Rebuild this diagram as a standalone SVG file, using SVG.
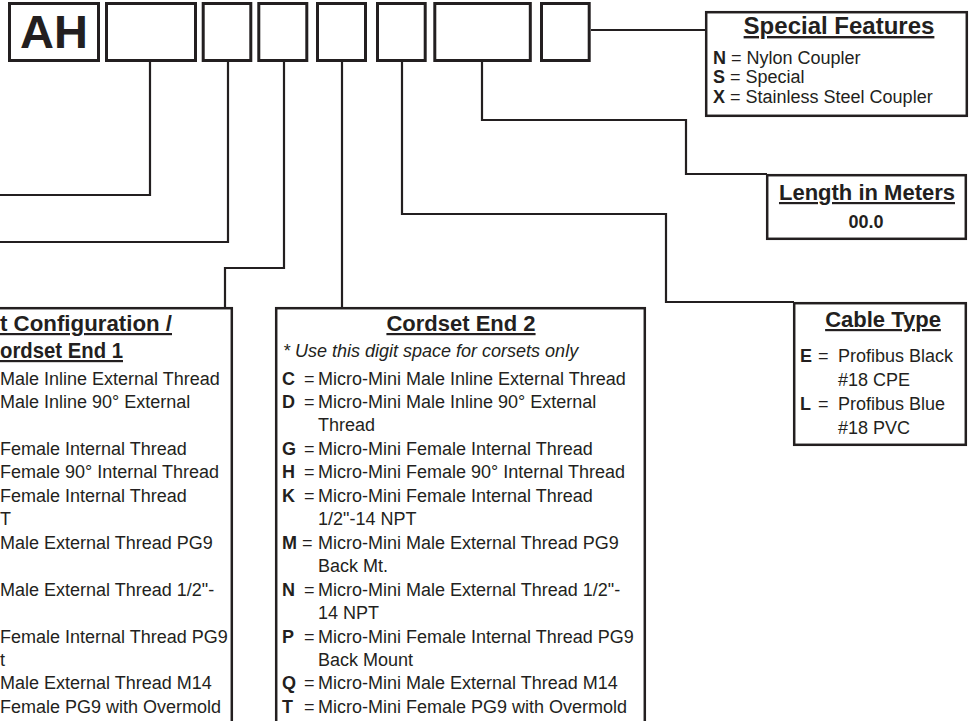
<svg xmlns="http://www.w3.org/2000/svg" width="972" height="721" viewBox="0 0 972 721">
<style>
.bg{fill:#ffffff}
.slot{fill:#ffffff;stroke:#231f20;stroke-width:3}
.info{fill:#ffffff;stroke:#231f20;stroke-width:2.5}
.conn{fill:none;stroke:#231f20;stroke-width:2.2}
text{font-family:"Liberation Sans",Arial,Helvetica,sans-serif;fill:#231f20}
.ah{font-size:47px;font-weight:bold}
.ttl{font-size:22px;font-weight:bold;text-decoration:underline}
.big{font-size:24px}
.t{font-size:18px}
.b{font-weight:bold}
.it{font-size:18px;font-style:italic}
</style>
<rect class="bg" x="0" y="0" width="972" height="721"/>

<g id="connectors">
<polyline class="conn" points="150,62 150,195 -5,195"/>
<polyline class="conn" points="228,62 228,242 -5,242"/>
<polyline class="conn" points="284,62 284,268 225,268 225,308"/>
<polyline class="conn" points="342,62 342,308"/>
<polyline class="conn" points="402,62 402,214 666,214 666,302 794,302"/>
<polyline class="conn" points="482,62 482,120 686,120 686,174 767,174"/>
<polyline class="conn" points="591,30 706,30"/>
</g>

<g id="slot-ah">
<rect class="slot" x="9.5" y="3.5" width="89" height="57"/>
<text class="ah" x="54" y="48" text-anchor="middle">AH</text>
</g>
<g id="slot-2"><rect class="slot" x="106.5" y="3.5" width="89" height="57"/></g>
<g id="slot-3"><rect class="slot" x="203.2" y="3.5" width="47.6" height="57"/></g>
<g id="slot-4"><rect class="slot" x="258.8" y="3.5" width="48" height="57"/></g>
<g id="slot-5"><rect class="slot" x="317.5" y="3.5" width="48" height="57"/></g>
<g id="slot-6"><rect class="slot" x="377.5" y="3.5" width="47.7" height="57"/></g>
<g id="slot-7"><rect class="slot" x="434.8" y="3.5" width="95.5" height="57"/></g>
<g id="slot-8"><rect class="slot" x="541.5" y="3.5" width="47.7" height="57"/></g>

<g id="special-features">
<rect class="info" x="706.2" y="12.2" width="260.6" height="103.6"/>
<text class="ttl big" x="839" y="34" text-anchor="middle">Special Features</text>
<text class="t" x="713" y="64"><tspan class="b">N</tspan> = Nylon Coupler</text>
<text class="t" x="713" y="83"><tspan class="b">S</tspan> = Special</text>
<text class="t" x="713" y="102.5"><tspan class="b">X</tspan> = Stainless Steel Coupler</text>
</g>

<g id="length">
<rect class="info" x="767.2" y="175.2" width="198.6" height="63.6"/>
<text class="ttl" x="867" y="200" text-anchor="middle">Length in Meters</text>
<text class="t b" x="866" y="228" text-anchor="middle">00.0</text>
</g>

<g id="cable-type">
<rect class="info" x="794.2" y="303.2" width="171.6" height="141.6"/>
<text class="ttl" x="883" y="327" text-anchor="middle">Cable Type</text>
<text class="t b" x="800" y="362">E</text><text class="t" x="818" y="362">=</text><text class="t" x="838" y="362">Profibus Black</text>
<text class="t" x="838" y="386">#18 CPE</text>
<text class="t b" x="800" y="410">L</text><text class="t" x="818" y="410">=</text><text class="t" x="838" y="410">Profibus Blue</text>
<text class="t" x="838" y="434">#18 PVC</text>
</g>

<g id="cordset-end-1">
<rect class="info" x="-10" y="308.2" width="241.8" height="430"/>
<text class="ttl" x="0" y="331" textLength="172" lengthAdjust="spacingAndGlyphs">t Configuration /</text>
<text class="ttl" x="0" y="358" textLength="123" lengthAdjust="spacingAndGlyphs">ordset End 1</text>
<text class="t" x="0" y="384.5">Male Inline External Thread</text>
<text class="t" x="0" y="408">Male Inline 90° External</text>
<text class="t" x="0" y="454.9">Female Internal Thread</text>
<text class="t" x="0" y="478.3">Female 90° Internal Thread</text>
<text class="t" x="0" y="501.8">Female Internal Thread</text>
<text class="t" x="0" y="525.2">T</text>
<text class="t" x="0" y="548.7">Male External Thread PG9</text>
<text class="t" x="0" y="595.6">Male External Thread 1/2"-</text>
<text class="t" x="0" y="642.5">Female Internal Thread PG9</text>
<text class="t" x="0" y="665.9">t</text>
<text class="t" x="0" y="689.4">Male External Thread M14</text>
<text class="t" x="0" y="712.8">Female PG9 with Overmold</text>
</g>

<g id="cordset-end-2">
<rect class="info" x="276.2" y="308.2" width="368.6" height="430"/>
<text class="ttl" x="461" y="331" text-anchor="middle">Cordset End 2</text>
<text class="it" x="283" y="357">* Use this digit space for corsets only</text>
<text class="t b" x="282" y="384.5">C</text><text class="t" x="304" y="384.5">=</text><text class="t" x="318" y="384.5">Micro-Mini Male Inline External Thread</text>
<text class="t b" x="282" y="408">D</text><text class="t" x="304" y="408">=</text><text class="t" x="318" y="408">Micro-Mini Male Inline 90° External</text>
<text class="t" x="318" y="431.4">Thread</text>
<text class="t b" x="282" y="454.9">G</text><text class="t" x="304" y="454.9">=</text><text class="t" x="318" y="454.9">Micro-Mini Female Internal Thread</text>
<text class="t b" x="282" y="478.3">H</text><text class="t" x="304" y="478.3">=</text><text class="t" x="318" y="478.3">Micro-Mini Female 90° Internal Thread</text>
<text class="t b" x="282" y="501.8">K</text><text class="t" x="304" y="501.8">=</text><text class="t" x="318" y="501.8">Micro-Mini Female Internal Thread</text>
<text class="t" x="318" y="525.2">1/2"-14 NPT</text>
<text class="t b" x="282" y="548.7">M</text><text class="t" x="302" y="548.7">=</text><text class="t" x="318" y="548.7">Micro-Mini Male External Thread PG9</text>
<text class="t" x="318" y="572.1">Back Mt.</text>
<text class="t b" x="282" y="595.6">N</text><text class="t" x="304" y="595.6">=</text><text class="t" x="318" y="595.6">Micro-Mini Male External Thread 1/2"-</text>
<text class="t" x="318" y="619">14 NPT</text>
<text class="t b" x="282" y="642.5">P</text><text class="t" x="304" y="642.5">=</text><text class="t" x="318" y="642.5">Micro-Mini Female Internal Thread PG9</text>
<text class="t" x="318" y="665.9">Back Mount</text>
<text class="t b" x="282" y="689.4">Q</text><text class="t" x="304" y="689.4">=</text><text class="t" x="318" y="689.4">Micro-Mini Male External Thread M14</text>
<text class="t b" x="282" y="712.8">T</text><text class="t" x="304" y="712.8">=</text><text class="t" x="318" y="712.8">Micro-Mini Female PG9 with Overmold</text>
</g>
</svg>
